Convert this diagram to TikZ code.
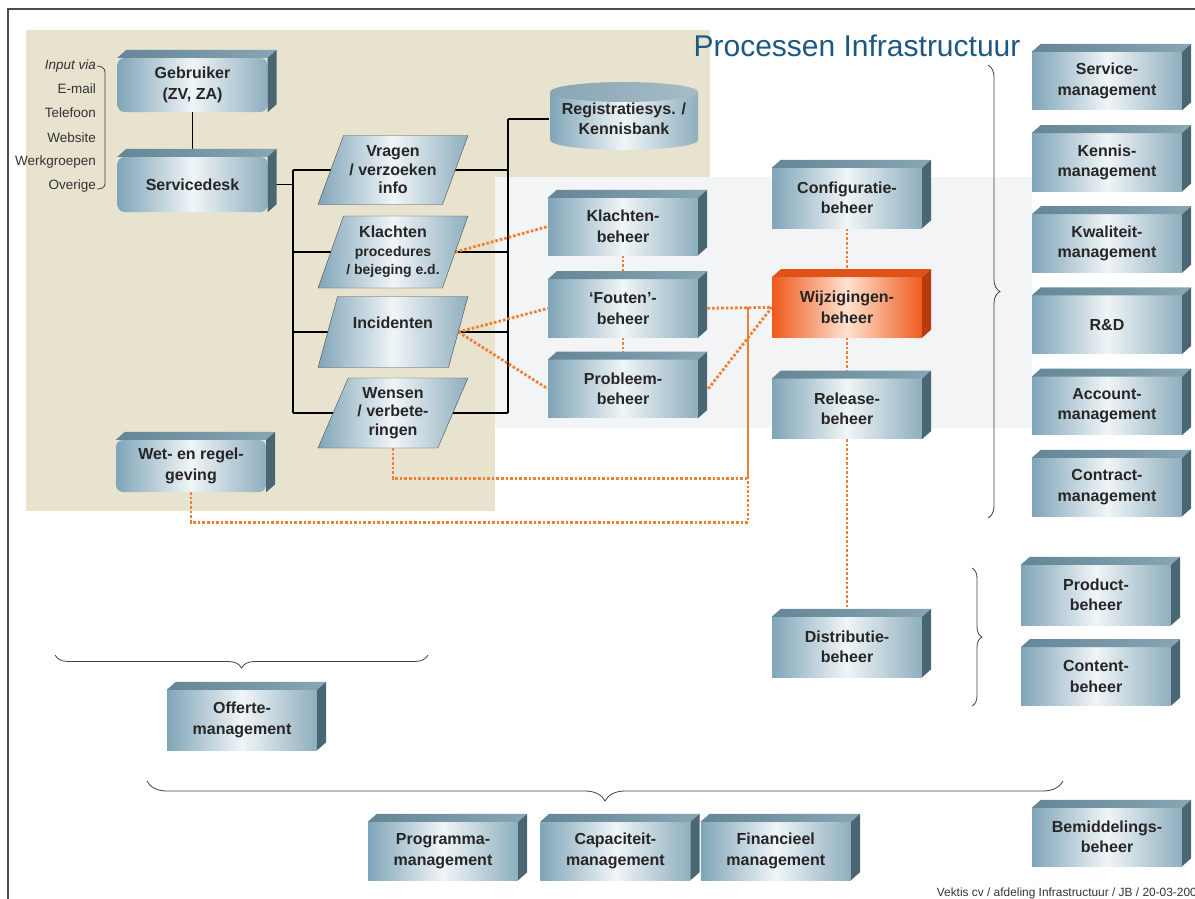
\documentclass[tikz,border=0pt]{standalone}
\usepackage{fontspec}
\setmainfont{Liberation Sans}
\usetikzlibrary{positioning,shapes.geometric,decorations.pathreplacing,backgrounds}

\definecolor{beige}{RGB}{231,227,206}
\definecolor{paneel}{RGB}{242,244,245}
\definecolor{blokL}{RGB}{128,165,184}
\definecolor{blokM}{RGB}{240,245,247}
\definecolor{blokR}{RGB}{142,174,190}
\definecolor{dakL}{RGB}{100,134,150}
\definecolor{dakR}{RGB}{136,166,180}
\definecolor{zij}{RGB}{74,102,114}
\definecolor{oranjeL}{RGB}{240,88,28}
\definecolor{oranjeM}{RGB}{255,226,208}
\definecolor{oranjeR}{RGB}{238,92,30}
\definecolor{oranjeDak}{RGB}{222,84,24}
\definecolor{oranjeZij}{RGB}{185,58,12}
\definecolor{stippel}{RGB}{238,128,52}
\definecolor{titelkleur}{RGB}{28,88,128}

\tikzstyle{bloktekst} = [rectangle, minimum width=150, minimum height=58, inner sep=0, align=center, text=black!85,
	font=\bfseries\fontsize{16}{20.5}\selectfont]
\tikzstyle{blok} = [bloktekst, left color=blokL, right color=blokR, middle color=blokM]
\tikzstyle{rondblok} = [blok, rounded corners=7]
\tikzstyle{blokoranje} = [blok, left color=oranjeL, right color=oranjeR, middle color=oranjeM]
\tikzstyle{schuin} = [trapezium, trapezium left angle=65, trapezium right angle=115, trapezium stretches=true, draw=black!70,
	left color=blokL, right color=blokR, middle color=blokM, minimum width=150, minimum height=70, inner sep=0, align=center,
	text=black!85, font=\bfseries\fontsize{16}{18.5}\selectfont]
\tikzstyle{invoer} = [anchor=east, inner sep=0, text=black!80, font=\fontsize{13.5}{15}\selectfont]
\tikzstyle{lijn} = [draw, black, line width=1.1]
\tikzstyle{stip} = [draw=stippel, line width=2.8, dash pattern=on 2.6pt off 2pt]
\tikzset{accolade/.style={draw=black!75, line width=0.8, decorate, decoration={brace, amplitude=#1}}}

\pgfdeclarelayer{achter}
\pgfdeclarelayer{lijnen}
\pgfsetlayers{achter,lijnen,main}

\begin{document}
\begin{tikzpicture}[x=1pt, y=-1pt]
	\useasboundingbox (0,0) rectangle (1195,899);
	\draw[black!70, line width=1.5] (8,899) -- (8,9) -- (1195,9);
	
	\begin{pgfonlayer}{achter}
		\fill[beige] (26,30) rectangle (710,177);
		\fill[beige] (26,177) rectangle (495,511);
		\fill[paneel] (495,177) rectangle (1032,428);
	\end{pgfonlayer}
	
	\node[text=titelkleur, font=\fontsize{30}{33}\selectfont, inner sep=0] (titel) at (857,46) {Processen Infrastructuur};
	\node[anchor=east, inner sep=0, text=black!80, font=\fontsize{11.9}{13}\selectfont] (voet) at (1197,893)
		{Vektis cv / afdeling Infrastructuur / JB / 20-03-200};
	
	% invoer
	\foreach \naam/\tekst/\y in {inp/\textit{Input via}/66, em/E-mail/89, tel/Telefoon/113, web/Website/138, wg/Werkgroepen/162, ov/Overige/186}
		\node[invoer] (\naam) at (96,\y) {\tekst};
	\draw[black!75, line width=0.8] ([xshift=1]inp.east) to[out=0,in=90] ++(8,6) -- ++(0,112) to[out=-90,in=0] ([xshift=1,yshift=-3]ov.east);
	
	% links
	\node[rondblok, minimum height=54] (geb) at (192.5,85) {Gebruiker\\(ZV, ZA)};
	\node[rondblok, minimum height=55] (sd) at (192.5,184.5) {Servicedesk};
	\node[rondblok, minimum height=52] (wet) at (191,466) {Wet- en regel-\\geving};
	
	\node[schuin, minimum height=69] (vr) at (393,170) {Vragen\\/ verzoeken\\info};
	\node[schuin, minimum height=72] (kl) at (393,252) {Klachten\\{\fontsize{14}{17}\selectfont procedures}\\{\fontsize{14}{17}\selectfont / bejeging e.d.}};
	\node[schuin, minimum height=71] (inc) at (393,332) {Incidenten\\\mbox{}};
	\node[schuin] (wen) at (393,413) {Wensen\\/ verbete-\\ringen};
	
	% registratie
	\shade[left color=blokL, right color=blokR, middle color=blokM] (550,92) -- (550,140)
		arc[start angle=180, end angle=0, x radius=74, y radius=10] -- (698,92) -- cycle;
	\shade[left color=dakR, right color=dakR!75!white] (624,92) ellipse[x radius=74, y radius=10];
	\node[bloktekst] (reg) at (624,119) {Registratiesys. /\\Kennisbank};
	
	% midden
	\node[blok, minimum height=57] (klb) at (623,226.5) {Klachten-\\beheer};
	\node[blok, below=24pt of klb] (fb) {`Fouten'-\\beheer};
	\node[blok, below=22pt of fb] (pb) {Probleem-\\beheer};
	\node[blok, minimum height=60] (conf) at (847,198) {Configuratie-\\beheer};
	\node[blokoranje, minimum height=60, below=49pt of conf] (wb) {Wijzigingen-\\beheer};
	\node[blok, minimum height=60, below=41pt of wb] (rel) {Release-\\beheer};
	\node[blok, minimum height=60] (dis) at (847,647) {Distributie-\\beheer};
	
	% rechts
	\node[blok] (srv) at (1107,81) {Service-\\management};
	\node[blok, below=22.8pt of srv] (ken) {Kennis-\\management};
	\node[blok, below=22.8pt of ken] (kwa) {Kwaliteit-\\management};
	\node[blok, below=22.8pt of kwa] (rd) {R\&D};
	\node[blok, below=22.8pt of rd] (acc) {Account-\\management};
	\node[blok, below=22.8pt of acc] (con) {Contract-\\management};
	\node[blok, minimum height=60] (prod) at (1096,595) {Product-\\beheer};
	\node[blok, below=22pt of prod] (cont) {Content-\\beheer};
	
	% onder
	\node[blok, minimum height=60] (off) at (242,720) {Offerte-\\management};
	\node[blok] (prog) at (443,851) {Programma-\\management};
	\node[blok, right=22pt of prog] (cap) {Capaciteit-\\management};
	\node[blok, right=10pt of cap] (fin) {Financieel\\management};
	\node[blok] (bem) at (1107,837) {Bemiddelings-\\beheer};
	
	% dak en zijkant
	\foreach \n in {geb,sd,wet,klb,fb,pb,conf,rel,dis,srv,ken,kwa,rd,acc,con,prod,cont,off,prog,cap,fin,bem} {
		\shade[left color=dakL, right color=dakR] (\n.north west) -- ++(9,-8) -- ([shift={(9,-8)}]\n.north east) -- (\n.north east) -- cycle;
		\fill[zij] (\n.north east) -- ++(9,-8) -- ([shift={(9,-8)}]\n.south east) -- (\n.south east) -- cycle;
	}
	\fill[oranjeDak] (wb.north west) -- ++(9,-8) -- ([shift={(9,-8)}]wb.north east) -- (wb.north east) -- cycle;
	\fill[oranjeZij] (wb.north east) -- ++(9,-8) -- ([shift={(9,-8)}]wb.south east) -- (wb.south east) -- cycle;
	
	% verbindingen
	\begin{pgfonlayer}{lijnen}
		\coordinate (links) at (293,0);
		\coordinate (rechts) at (508,0);
		\coordinate (knik) at (748,0);
		\path[lijn] (geb.south) -- (sd.north);
		\path[lijn] (sd.east) -- (links|-sd.east);
		\path[lijn] (links|-vr.center) -- (links|-wen.center);
		\path[lijn] (rechts|-reg.west) -- (rechts|-wen.center);
		\path[lijn, line width=1.8] (rechts|-reg.west) -- (reg.west);
		\foreach \n in {vr,kl,inc,wen}
			\path[lijn] (links|-\n.center) -- (rechts|-\n.center);
		
		\path[stip] (kl.east) -- (klb.west);
		\path[stip] (klb.south) -- (fb.north);
		\path[stip] (fb.south) -- (pb.north);
		\path[stip] (inc.east) -- (fb.west);
		\path[stip] (inc.east) -- (pb.west);
		\path[stip] (fb.east) -- (wb.west);
		\path[stip] ([xshift=10]pb.east) -- (wb.west);
		\path[stip] (wen.south) -- ++(0,30) -| (knik|-wb.west);
		\path[stip] (wet.south) -- ++(0,30) -| (knik|-wb.west);
		\path[stip] (conf.south) -- (wb.north);
		\path[stip] (wb.south) -- (rel.north);
		\path[stip] (rel.south) -- (dis.north);
	\end{pgfonlayer}
	
	% accolades
	\draw[accolade=12] (988,65) -- (988,518);
	\draw[accolade=10] (972,568) -- (972,706);
	\draw[accolade=13] (428,655) -- (55,655);
	\draw[accolade=20] (1063,781) -- (147,781);
\end{tikzpicture}
\end{document}
